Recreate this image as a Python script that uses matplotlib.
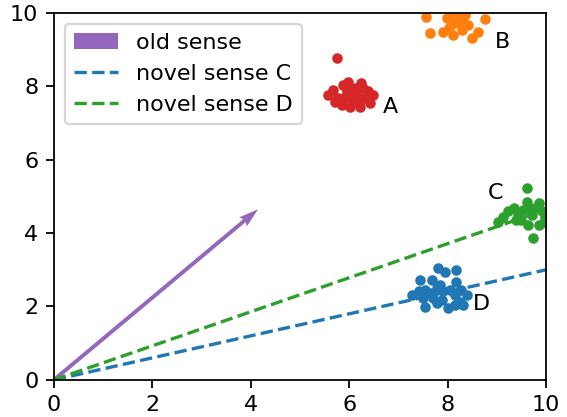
import numpy as np
import matplotlib
matplotlib.use("Agg")
import matplotlib.pyplot as plt

# cluster points
A_x = [5.75, 5.58, 5.68, 5.78, 5.88, 5.95, 5.98, 6.05, 6.12, 6.15, 6.25, 6.32, 6.39, 6.42, 6.49,
       5.85, 6.02, 6.19, 5.92, 6.09, 6.29, 5.71, 6.22]
A_y = [8.78, 7.77, 7.90, 7.67, 8.04, 7.86, 8.13, 7.58, 7.95, 7.77, 8.08, 7.67, 7.86, 7.54, 7.77,
       7.49, 7.45, 7.54, 7.72, 7.72, 7.95, 7.58, 7.45]

B_x = [7.57, 7.64, 7.98, 8.02, 8.08, 8.15, 8.22, 8.29, 8.35, 8.42, 8.49, 8.62, 8.76, 7.91, 8.12,
       8.32, 8.18, 8.00, 8.30]
B_y = [9.90, 9.45, 9.85, 9.58, 9.95, 9.72, 9.85, 9.54, 9.95, 9.67, 9.31, 9.49, 9.84, 9.49, 9.40,
       9.76, 9.99, 10.10, 10.05]

C_x = [9.61, 9.03, 9.13, 9.23, 9.34, 9.44, 9.54, 9.61, 9.64, 9.71, 9.78, 9.85, 9.91, 9.95, 9.85,
       9.64, 9.74, 9.98, 9.50, 9.40, 10.10, 10.05]
C_y = [5.24, 4.31, 4.45, 4.59, 4.68, 4.50, 4.63, 4.86, 4.72, 4.50, 4.68, 4.81, 4.59, 4.31, 4.22,
       4.22, 3.86, 4.45, 4.36, 4.36, 4.60, 4.30]

D_x = [7.81, 7.95, 8.18, 7.44, 7.68, 7.85, 8.18, 7.27, 7.41, 7.54, 7.64, 7.78, 7.91, 8.05, 8.15,
       8.39, 7.51, 7.71, 7.88, 8.25, 7.54, 8.01, 8.15, 8.32, 7.78, 8.28]
D_y = [3.04, 2.95, 3.00, 2.72, 2.72, 2.59, 2.68, 2.32, 2.41, 2.45, 2.36, 2.50, 2.41, 2.45, 2.32,
       2.32, 2.23, 2.23, 2.18, 2.13, 1.99, 1.95, 2.04, 2.04, 2.09, 2.45]

labels = ["A", "B", "C", "D"]
label_x = [6.69, 8.96, 8.82, 8.52]
label_y = [7.44, 9.20, 5.08, 2.08]

old_sense = [4.15, 4.65]
sense_C_end = [10.0, 3.0]
sense_D_end = [10.0, 4.64]

# rendered at higher dpi so text/lines come out bigger, like the original
fig = plt.figure(figsize=(567 / 160, 417 / 160), dpi=160)
ax = fig.add_axes([0.095, 0.089, 0.868, 0.880])

ax.scatter(A_x, A_y, s=14, color="tab:red")
ax.scatter(B_x, B_y, s=14, color="tab:orange")
ax.scatter(C_x, C_y, s=14, color="tab:green")
ax.scatter(D_x, D_y, s=14, color="tab:blue")
for t, x, y in zip(labels, label_x, label_y):
    ax.text(x, y, t, ha="left", va="center")

ax.quiver(0, 0, old_sense[0], old_sense[1], angles="xy", scale_units="xy", scale=1,
          color="tab:purple", width=0.008, label="old sense")
ax.plot([0, sense_C_end[0]], [0, sense_C_end[1]], "--", color="tab:blue", label="novel sense C")
ax.plot([0, sense_D_end[0]], [0, sense_D_end[1]], "--", color="tab:green", label="novel sense D")

ax.set_xlim(0, 10)
ax.set_ylim(0, 10)
ax.legend(loc="upper left")

fig.savefig("out.png", dpi=160)
